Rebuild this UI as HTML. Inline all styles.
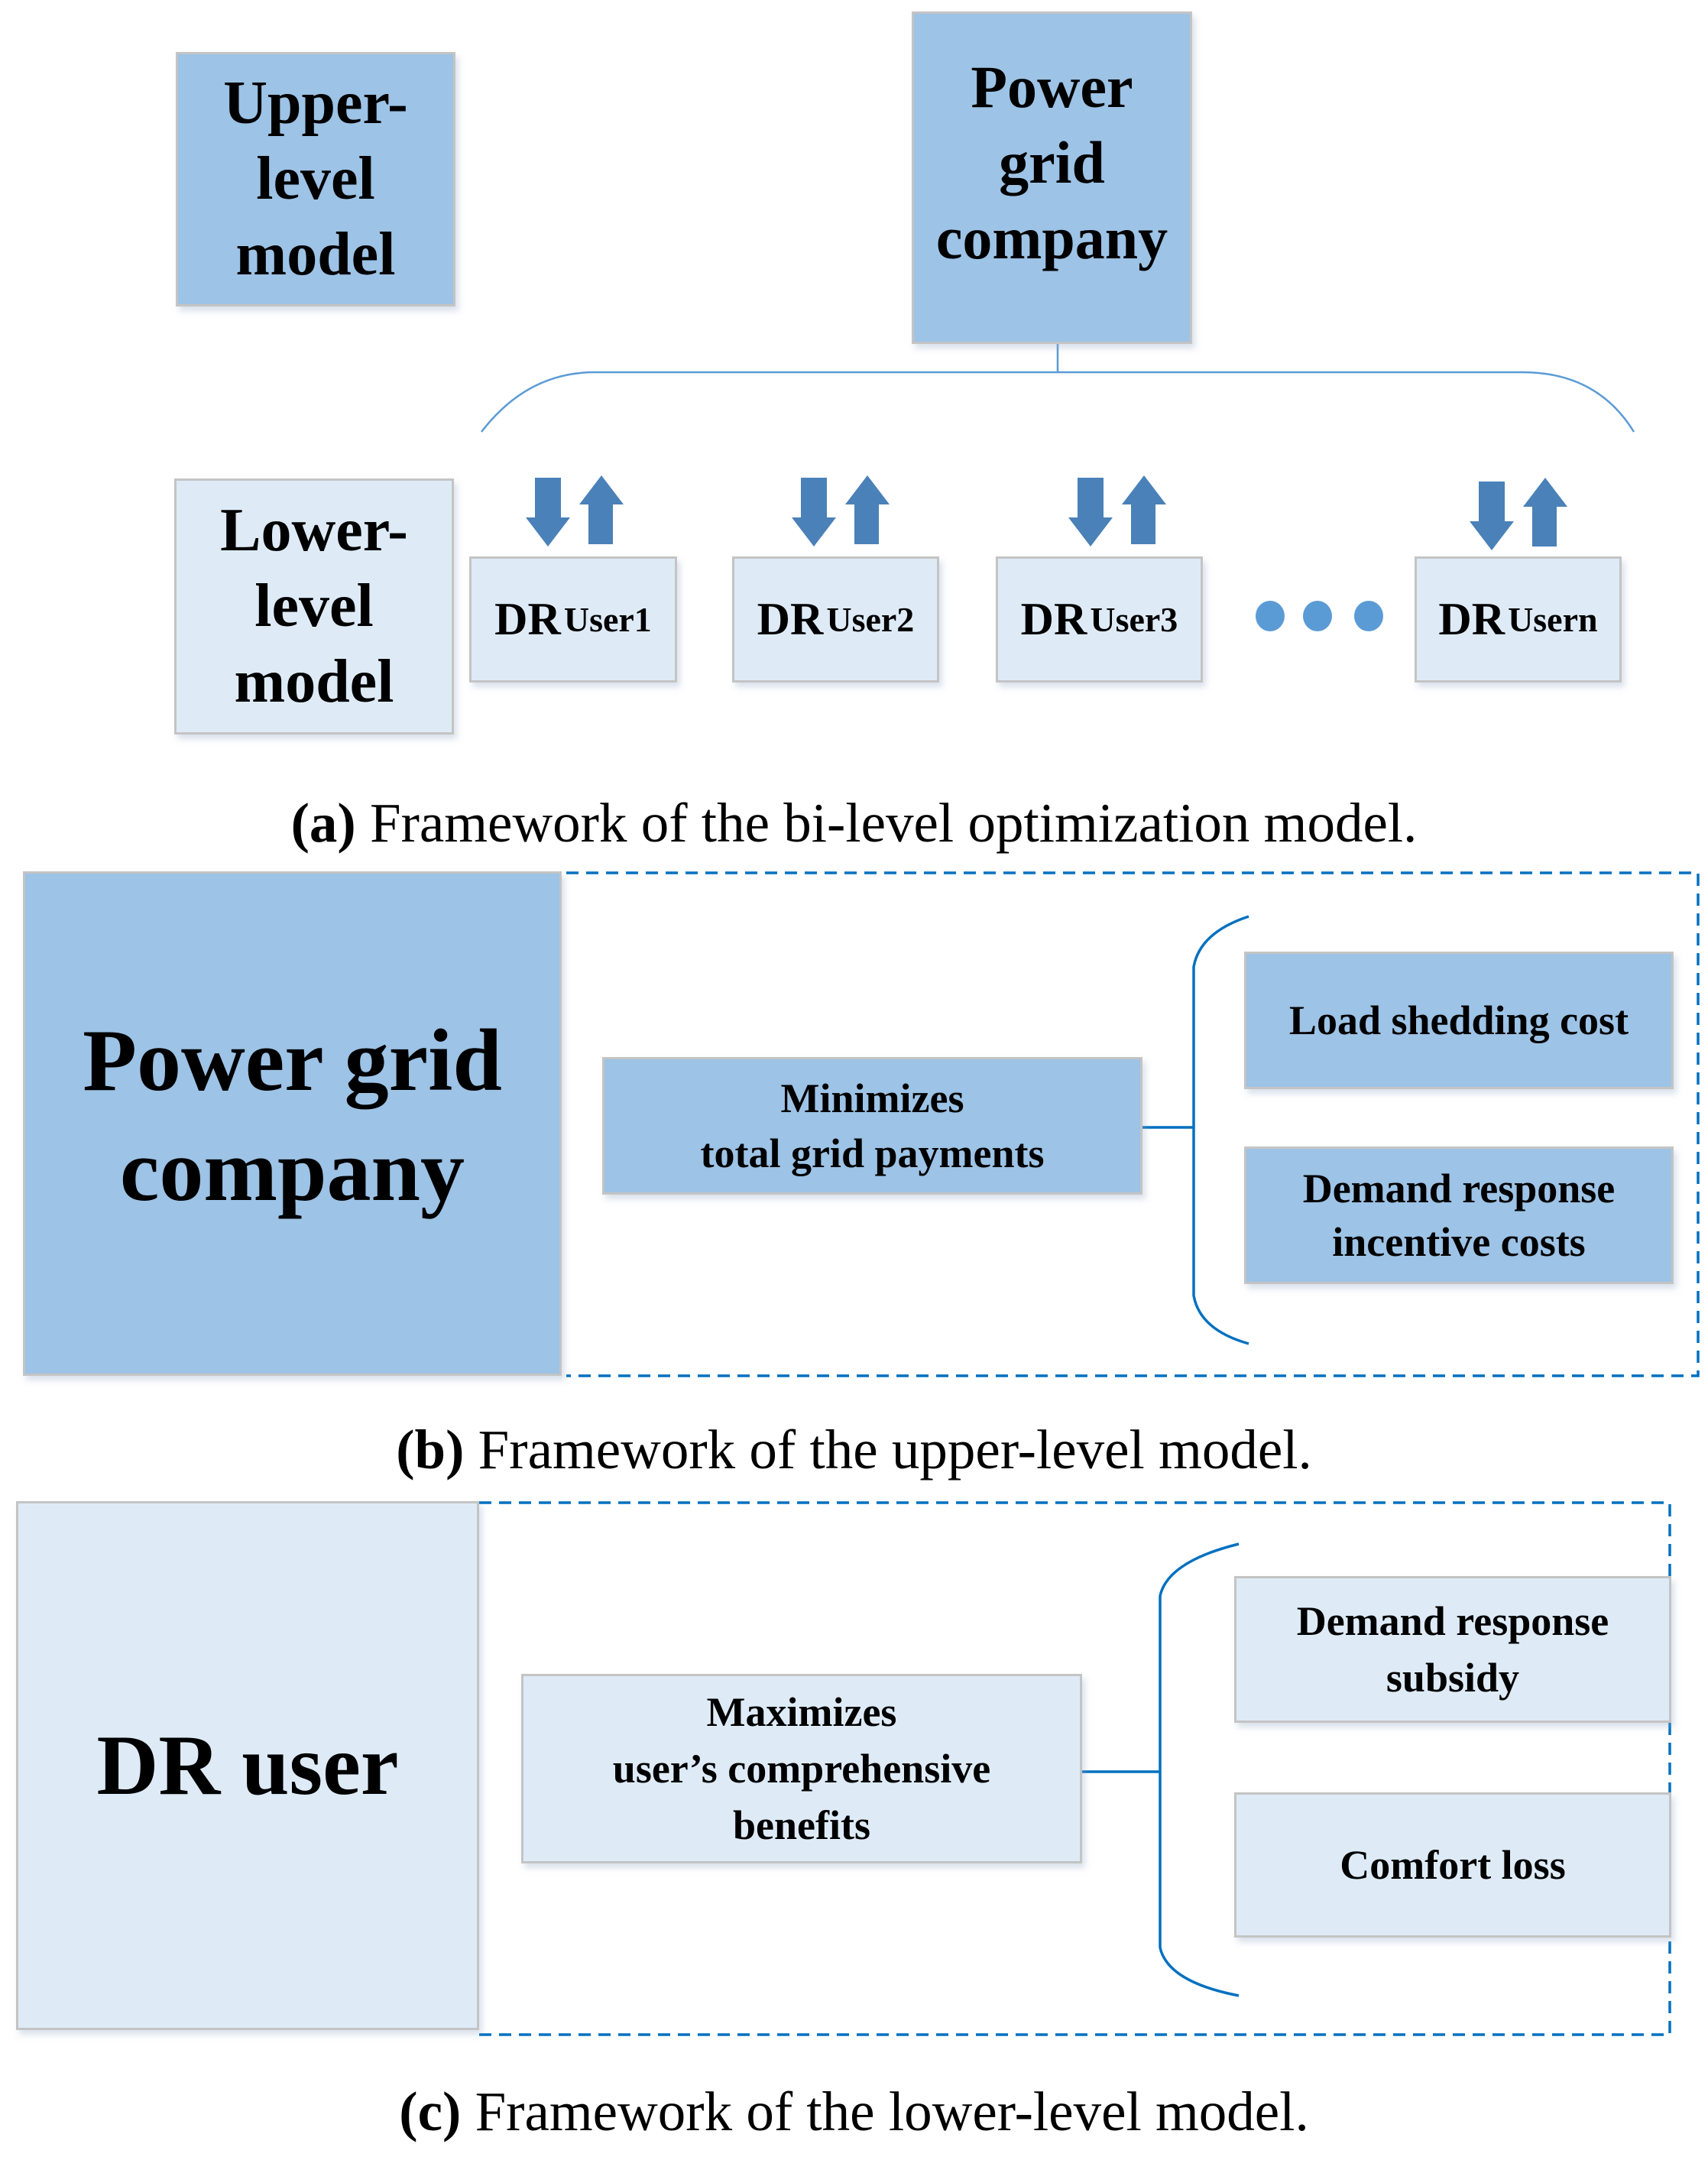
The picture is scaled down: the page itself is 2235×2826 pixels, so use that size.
<!DOCTYPE html>
<html><head><meta charset="utf-8"><style>
body{margin:0;width:2235px;height:2826px;background:#fff;position:relative;overflow:hidden;font-family:"Liberation Serif",serif;}
.b{position:absolute;box-sizing:border-box;border:3px solid #c4c4c4;display:flex;align-items:center;justify-content:center;text-align:center;font-weight:bold;color:#000;box-shadow:4px 6px 8px rgba(150,170,200,0.35);}
.d{background:#9dc3e6;}
.l{background:#deebf7;}
.cap{position:absolute;left:0;width:2235px;text-align:center;font-size:73px;color:#000;}
svg{position:absolute;left:0;top:0;}
</style></head><body>
<svg width="2235" height="2826">
<g stroke="#5b9bd5" stroke-width="2.5" fill="none">
<line x1="1384" y1="414" x2="1384" y2="487"/>
<path d="M630 565 Q690 487 778 487 L1992 487 Q2090 487 2138 565"/>
</g>
<g fill="#4a81b8">
<path d="M700 625h34v52h12l-29 38l-29-38h12z"/>
<path d="M770 712h32v-52h14l-29-38l-29 38h12z"/>
<path d="M1048 625h34v52h12l-29 38l-29-38h12z"/>
<path d="M1118 712h32v-52h14l-29-38l-29 38h12z"/>
<path d="M1410 625h34v52h12l-29 38l-29-38h12z"/>
<path d="M1480 712h32v-52h14l-29-38l-29 38h12z"/>
<path d="M1935 630h34v52h12l-29 38l-29-38h12z"/>
<path d="M2005 715h32v-52h14l-29-38l-29 38h12z"/>
</g>
<g fill="#5b9bd5">
<ellipse cx="1662" cy="806" rx="19" ry="20"/><ellipse cx="1724" cy="806" rx="19" ry="20"/><ellipse cx="1791" cy="806" rx="19" ry="20"/>
</g>
<g stroke="#0070c0" stroke-width="3.5" fill="none">
<path d="M741 1142 H2222 V1800 H741" stroke-dasharray="16 10"/>
<line x1="1495" y1="1475" x2="1562" y2="1475"/>
<path d="M1634 1199 Q1570 1220 1562 1265 L1562 1695 Q1570 1740 1634 1758"/>
<path d="M627 1966 H2185 V2662 H627" stroke-dasharray="16 10"/>
<line x1="1416" y1="2318" x2="1518" y2="2318"/>
<path d="M1621 2020 Q1528 2043 1518 2088 L1518 2548 Q1528 2593 1621 2611"/>
</g>
</svg>
<div class="b d" style="left:230px;top:68px;width:366px;height:333px;font-size:80px;line-height:99px;">Upper-<br>level<br>model</div>
<div class="b d" style="left:1193px;top:15px;width:367px;height:435px;font-size:78px;line-height:99px;padding-bottom:40px;">Power<br>grid<br>company</div>
<div class="b l" style="left:228px;top:626px;width:366px;height:335px;font-size:80px;line-height:99px;">Lower-<br>level<br>model</div>
<div class="b l" style="left:614px;top:728px;width:272px;height:165px;"><span style="font-size:60px">DR</span>&nbsp;<span style="font-size:46px">User1</span></div>
<div class="b l" style="left:958px;top:728px;width:271px;height:165px;"><span style="font-size:60px">DR</span>&nbsp;<span style="font-size:46px">User2</span></div>
<div class="b l" style="left:1303px;top:728px;width:271px;height:165px;"><span style="font-size:60px">DR</span>&nbsp;<span style="font-size:46px">User3</span></div>
<div class="b l" style="left:1851px;top:728px;width:271px;height:165px;"><span style="font-size:60px">DR</span>&nbsp;<span style="font-size:46px">Usern</span></div>
<div class="cap" style="top:1035px;"><b>(a)</b> Framework of the bi-level optimization model.</div>

<div class="b d" style="left:30px;top:1140px;width:705px;height:660px;font-size:116px;line-height:144px;padding-bottom:20px;">Power grid<br>company</div>
<div class="b d" style="left:788px;top:1383px;width:707px;height:180px;font-size:54px;line-height:72px;">Minimizes<br>total grid payments</div>
<div class="b d" style="left:1628px;top:1245px;width:562px;height:180px;font-size:54px;">Load shedding cost</div>
<div class="b d" style="left:1628px;top:1500px;width:562px;height:180px;font-size:54px;line-height:70px;">Demand response<br>incentive costs</div>
<div class="cap" style="top:1855px;"><b>(b)</b> Framework of the upper-level model.</div>

<div class="b l" style="left:21px;top:1964px;width:606px;height:692px;font-size:112px;">DR user</div>
<div class="b l" style="left:682px;top:2190px;width:734px;height:248px;font-size:54px;line-height:74px;">Maximizes<br>user’s comprehensive<br>benefits</div>
<div class="b l" style="left:1615px;top:2062px;width:572px;height:192px;font-size:54px;line-height:74px;">Demand response<br>subsidy</div>
<div class="b l" style="left:1615px;top:2345px;width:572px;height:190px;font-size:54px;">Comfort loss</div>
<div class="cap" style="top:2721px;"><b>(c)</b> Framework of the lower-level model.</div>
</body></html>
